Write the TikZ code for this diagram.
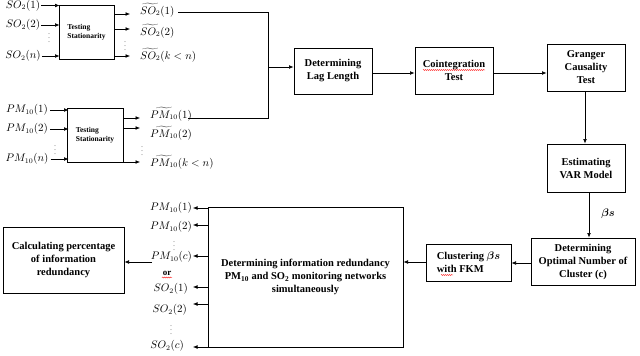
\documentclass[tikz,border=0pt]{standalone}
\usepackage{amsmath}
\usepackage{fontspec}
\setmainfont{Liberation Serif}
\usetikzlibrary{arrows.meta,decorations.pathmorphing}
\begin{document}
\begin{tikzpicture}[x=1pt,y=-1pt,
 box/.style={draw,line width=1pt,font=\fontsize{10.5}{13}\selectfont\bfseries,align=center,inner sep=2pt},
 tbox/.style={draw,line width=1pt,font=\fontsize{7.5}{9.5}\selectfont\bfseries,align=left,inner sep=2pt},
 conn/.style={line width=0.6pt,-{Latex[length=4.5pt,width=3.8pt]}},
 plain/.style={line width=0.6pt},
 lbl/.style={font=\fontsize{10.5}{12}\selectfont,inner sep=0pt},
 dts/.style={font=\fontsize{6}{6}\selectfont,inner sep=0pt},
 wavy/.style={red,line width=0.4pt,decorate,decoration={snake,amplitude=0.5pt,segment length=2pt}}
]
\useasboundingbox (0,0) rectangle (640,356);

% ---- boxes
\node[tbox,minimum width=55pt,minimum height=54pt] (ts1) at (86.5,32) {Testing\\Stationarity};
\node[tbox,minimum width=56pt,minimum height=54pt] (ts2) at (95,135) {Testing\\Stationarity};
\node[box,minimum width=78pt,minimum height=46pt] (lag) at (333,71) {Determining\\Lag Length};
\node[box,minimum width=78pt,minimum height=47pt] (coint) at (454,70.5) {Cointegration\\Test};
\node[box,minimum width=78pt,minimum height=47pt] (gr) at (586,67.5) {Granger\\Causality\\Test};
\node[box,minimum width=78pt,minimum height=48pt] (var) at (586,168) {Estimating\\VAR Model};
\node[box,minimum width=104pt,minimum height=47pt] (opt) at (583,261.5) {Determining\\Optimal Number of\\Cluster (c)};
\node[box,minimum width=85pt,minimum height=37pt,align=left] (clus) at (468.5,262.5) {Clustering $\boldsymbol{\beta s}$\\with FKM};
\node[box,minimum width=195pt,minimum height=140pt] (big) at (305.5,277) {Determining information redundancy\\PM\textsubscript{10} and SO\textsubscript{2} monitoring networks\\simultaneously};
\node[box,minimum width=121pt,minimum height=66pt] (calc) at (63.5,260) {Calculating percentage\\of information\\redundancy};

% ---- SO2 inputs
\node[lbl] (si1) at (23,5.5) {$SO_2(1)$};
\node[lbl] (si2) at (23,25) {$SO_2(2)$};
\node[dts] (sid) at (49,35) {$\vdots$};
\node[lbl] (si3) at (23,56) {$SO_2(n)$};
\foreach \n in {si1,si2,si3} \draw[conn] ([xshift=1pt]\n.east) -- ([xshift=1pt]\n.east -| ts1.west);

% ---- SO2 outputs
\coordinate (so1) at (130,14);
\coordinate (so2) at (130,29);
\coordinate (so3) at (130,56);
\foreach \n in {so1,so2,so3} \draw[conn] (\n -| ts1.east) -- (\n);
\node[dts] (sod) at (125,43) {$\vdots$};
\node[lbl,anchor=west] (sl1) at (140,10) {$\widetilde{SO_2}(1)$};
\node[lbl,anchor=west] (sl2) at (140,31) {$\widetilde{SO_2}(2)$};
\node[lbl,anchor=west] (sl3) at (140,55) {$\widetilde{SO_2}(k<n)$};

% ---- PM10 inputs
\node[lbl] (pi1) at (27,110) {$PM_{10}(1)$};
\node[lbl] (pi2) at (27,129) {$PM_{10}(2)$};
\node[dts] (pid) at (55,147) {$\vdots$};
\node[lbl] (pi3) at (27,159) {$PM_{10}(n)$};
\foreach \n in {pi1,pi2,pi3} \draw[conn] ([xshift=2pt]\n.east) -- ([xshift=2pt]\n.east -| ts2.west);

% ---- PM10 outputs
\coordinate (po1) at (140,118);
\coordinate (po2) at (140,128);
\coordinate (po3) at (140,162);
\foreach \n in {po1,po2,po3} \draw[conn] (\n -| ts2.east) -- (\n);
\node[dts] (pod) at (142,148) {$\vdots$};
\node[lbl,anchor=west] (pl1) at (150,114) {$\widetilde{PM_{10}}(1)$};
\node[lbl,anchor=west] (pl2) at (150,133) {$\widetilde{PM_{10}}(2)$};
\node[lbl,anchor=west] (pl3) at (150,162) {$\widetilde{PM_{10}}(k<n)$};

% ---- merge into lag length
\coordinate (j) at (268,67);
\coordinate (jt) at (178,12);
\coordinate (jb) at (188,118);
\draw[plain] (jt) -| (j);
\draw[plain] (jb) -| (j);
\draw[conn] (j) -- (j -| lag.west);

% ---- main chain
\draw[conn] (lag.east |- 0,73) -- (coint.west |- 0,73);
\draw[conn] (coint.east |- 0,73) -- (gr.west |- 0,73);
\draw[conn] (gr.south -| 585,0) -- (var.north -| 585,0);
\draw[conn] (var.south -| 589,0) -- (opt.north -| 589,0);
\node[font=\fontsize{11}{12}\selectfont] (beta) at (608,214) {$\boldsymbol{\beta s}$};
\draw[conn] (opt.west |- 0,263) -- (clus.east |- 0,263);
\draw[conn] (clus.west |- 0,262) -- (big.east |- 0,262);

% ---- big box outputs
\coordinate (b1) at (193,208);
\coordinate (b2) at (193,225);
\coordinate (b3) at (193,256);
\coordinate (b4) at (193,287);
\coordinate (b5) at (193,304);
\coordinate (b6) at (193,347);
\foreach \n in {b1,b2,b3,b4,b5,b6} \draw[conn] (\n -| big.west) -- (\n);
\node[lbl,anchor=east] (ol1) at (192,208) {$PM_{10}(1)$};
\node[lbl,anchor=east] (ol2) at (192,227) {$PM_{10}(2)$};
\node[dts] (old1) at (174,243) {$\vdots$};
\node[lbl,anchor=east] (ol3) at (192,257) {$PM_{10}(c)$};
\node[font=\fontsize{9}{10}\selectfont\bfseries,inner sep=0pt] (or) at (167,273) {or};
\node[lbl,anchor=east] (ol4) at (188,289) {$SO_2(1)$};
\node[lbl,anchor=east] (ol5) at (187,310) {$SO_2(2)$};
\node[dts] (old2) at (171,327) {$\vdots$};
\node[lbl,anchor=east] (ol6) at (184,346) {$SO_2(c)$};

% ---- to calculating box
\coordinate (ca) at (152,262);
\draw[conn] (ca) -- (ca -| calc.east);

% ---- spell-check marks
\draw[wavy] (423,70) -- (485,70);
\draw[wavy] (441,275) -- (453,275);
\draw[wavy] (162,277.5) -- (172,277.5);
\end{tikzpicture}
\end{document}
